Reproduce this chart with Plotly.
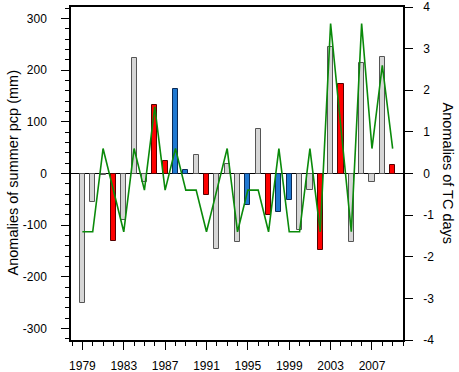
import plotly.graph_objects as go

years = list(range(1979, 2010))
pcp_anom = [-251, -56, -2, -130, -90, 223, -16, 133, 24, 163, 6, 35, -42, -146, 19,
            -132, -60, 86, -80, -74, -52, -110, -32, -147, 245, 174, -132, 213, -17, 226, 16]
bar_group = ['g', 'g', 'g', 'r', 'g', 'g', 'g', 'r', 'r', 'b', 'b', 'g', 'r', 'g', 'g',
             'g', 'b', 'g', 'r', 'b', 'b', 'g', 'g', 'r', 'g', 'r', 'g', 'g', 'g', 'g', 'r']
tc_anom = [-1.4, -1.4, 0.6, -0.4, -1.4, 0.6, -0.4, 1.6, -0.4, 0.6, -0.4, -0.4, -1.4, -0.4, 0.6,
           -1.4, -0.4, -0.4, -1.4, 0.6, -1.4, -1.4, 0.6, -1.4, 3.6, 1.1, -1.4, 3.6, 0.6, 2.6, 0.6]
x_ticks = [1979, 1983, 1987, 1991, 1995, 1999, 2003, 2007]
y_ticks = [-300, -200, -100, 0, 100, 200, 300]
y2_ticks = [-4, -3, -2, -1, 0, 1, 2, 3, 4]

fill_map = {'g': '#d6d6d6', 'r': '#ff0000', 'b': '#1f78d1'}
edge_map = {'g': '#555555', 'r': '#550000', 'b': '#0a2a55'}

FONT = "Liberation Sans, Arial, Helvetica, sans-serif"

fig = go.Figure()
fig.add_trace(go.Bar(
    x=years, y=pcp_anom, width=0.5,
    marker=dict(color=[fill_map[c] for c in bar_group],
                line=dict(color=[edge_map[c] for c in bar_group], width=1)),
    yaxis='y', showlegend=False,
))
fig.add_trace(go.Scatter(
    x=years, y=tc_anom, mode='lines', line=dict(color='#0a8a0a', width=1.6),
    yaxis='y2', showlegend=False,
))

axis_common = dict(showgrid=False, showline=True, linecolor='black', linewidth=1.5,
                   ticks='outside', tickcolor='black', tickwidth=1.3,
                   tickfont=dict(family=FONT, size=12, color='black'))

fig.update_layout(
    width=459, height=372,
    margin=dict(l=71, r=56, t=7, b=32, autoexpand=False),
    paper_bgcolor='white', plot_bgcolor='white',
    bargap=0,
    xaxis=dict(range=[1977.9, 2010], tickvals=x_ticks, ticktext=[str(v) for v in x_ticks],
               ticklen=8, mirror=True, zeroline=False, ticklabelstandoff=6,
               minor=dict(dtick=1, tick0=1979, ticklen=4, ticks='outside', tickcolor='black', tickwidth=1),
               **axis_common),
    yaxis=dict(range=[-322, 322], tickvals=y_ticks, ticktext=[str(v) for v in y_ticks],
               ticklen=8, zeroline=True, zerolinecolor='black', zerolinewidth=1.3,
               ticklabelstandoff=12,
               minor=dict(dtick=20, tick0=0, ticklen=4, ticks='outside', tickcolor='black', tickwidth=1),
               **axis_common),
    yaxis2=dict(range=[-4, 4], overlaying='y', side='right', tickvals=y2_ticks,
                ticktext=[str(v) for v in y2_ticks], ticklen=8, zeroline=False,
                ticklabelstandoff=8,
                **axis_common),
    annotations=[
        dict(text='Anomalies of summer pcp (mm)', xref='paper', yref='paper', x=0, y=0.5,
             xshift=-59, xanchor='center', yanchor='middle', textangle=-90, showarrow=False,
             font=dict(family=FONT, size=14.5, color='black')),
        dict(text='Anomalies of TC days', xref='paper', yref='paper', x=1, y=0.5,
             xshift=45, xanchor='center', yanchor='middle', textangle=90, showarrow=False,
             font=dict(family=FONT, size=14.5, color='black')),
    ],
)

fig.write_html("out.html", config={'displayModeBar': False},
               post_script="document.body.style.margin='0';document.body.style.padding='0';")
